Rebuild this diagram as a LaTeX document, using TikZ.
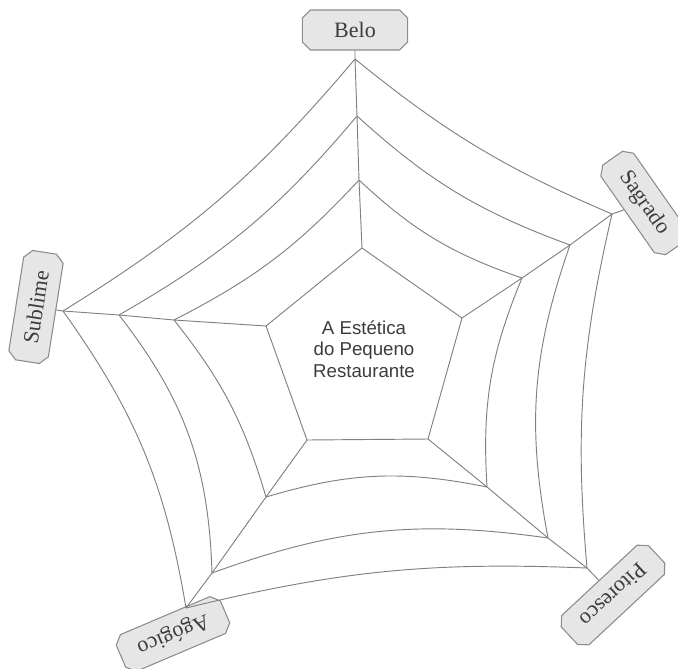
\documentclass[tikz,border=0pt]{standalone}
\usepackage{fontspec}
\setmainfont{Liberation Serif}
\newfontfamily\arialfont{Liberation Sans}
\usetikzlibrary{shapes.misc}
\definecolor{webgray}{HTML}{808080}
\definecolor{tagfill}{HTML}{E6E6E6}
\definecolor{tagline}{HTML}{8C8C8C}
\definecolor{inkgray}{HTML}{3C3C3C}

\begin{document}
\begin{tikzpicture}[x=0.75pt, y=-0.75pt,
    web/.style={draw=webgray, line width=0.7pt},
    tag/.style={chamfered rectangle, chamfered rectangle xsep=3pt,
        chamfered rectangle ysep=3pt, draw=tagline, fill=tagfill,
        line width=0.8pt, minimum width=79pt, minimum height=30pt,
        inner xsep=11pt, text=inkgray, font=\fontsize{16.5}{19}\selectfont}]
    \useasboundingbox (0,0) rectangle (678,668);

    % Web points, ring 0 is the inner pentagon
    \coordinate (belo0) at (362,248);
    \coordinate (belo1) at (359,180);
    \coordinate (belo2) at (357,116);
    \coordinate (belo3) at (355,59);
    \coordinate (sagr0) at (462,318);
    \coordinate (sagr1) at (522,278);
    \coordinate (sagr2) at (570,245);
    \coordinate (sagr3) at (612,214);
    \coordinate (pito0) at (428,439);
    \coordinate (pito1) at (487,487);
    \coordinate (pito2) at (548,538);
    \coordinate (pito3) at (587,568);
    \coordinate (agog0) at (307,440);
    \coordinate (agog1) at (266,497);
    \coordinate (agog2) at (212,573);
    \coordinate (agog3) at (186,608);
    \coordinate (subl0) at (266,326);
    \coordinate (subl1) at (174,320);
    \coordinate (subl2) at (119,315);
    \coordinate (subl3) at (63,311);

    % Labels
    \node[tag] (labbelo) at (355,30) {Belo};
    \node[tag, rotate=-55] (labsagr) at (644,203) {Sagrado};
    \node[tag, rotate=-137] (labpito) at (613,595) {Pitoresco};
    \node[tag, rotate=-157] (labagog) at (173,634) {Agógico};
    \node[tag, rotate=81] (labsubl) at (36,307) {Sublime};

    % Spokes
    \foreach \s in {belo,sagr,pito,agog,subl}
        \draw[web] (lab\s) -- (\s3) -- (\s2) -- (\s1) -- (\s0);

    % Inner pentagon
    \draw[web] (belo0) -- (sagr0) -- (pito0) -- (agog0) -- (subl0) -- cycle;

    % Curved rings
    \foreach \a/\b/\i/\j/\k in {belo/sagr/12/11/8, sagr/pito/13/15/9,
            pito/agog/14/14/8, agog/subl/11/18/13, subl/belo/10/10/9} {
        \draw[web] (\a1) to[bend right=\i] (\b1);
        \draw[web] (\a2) to[bend right=\j] (\b2);
        \draw[web] (\a3) to[bend right=\k] (\b3);
    }

    % Title
    \node[align=center, text=inkgray,
        font=\arialfont\fontsize{14}{16}\selectfont] (title) at (364,349)
        {A Estética\\do Pequeno\\Restaurante};
\end{tikzpicture}
\end{document}
